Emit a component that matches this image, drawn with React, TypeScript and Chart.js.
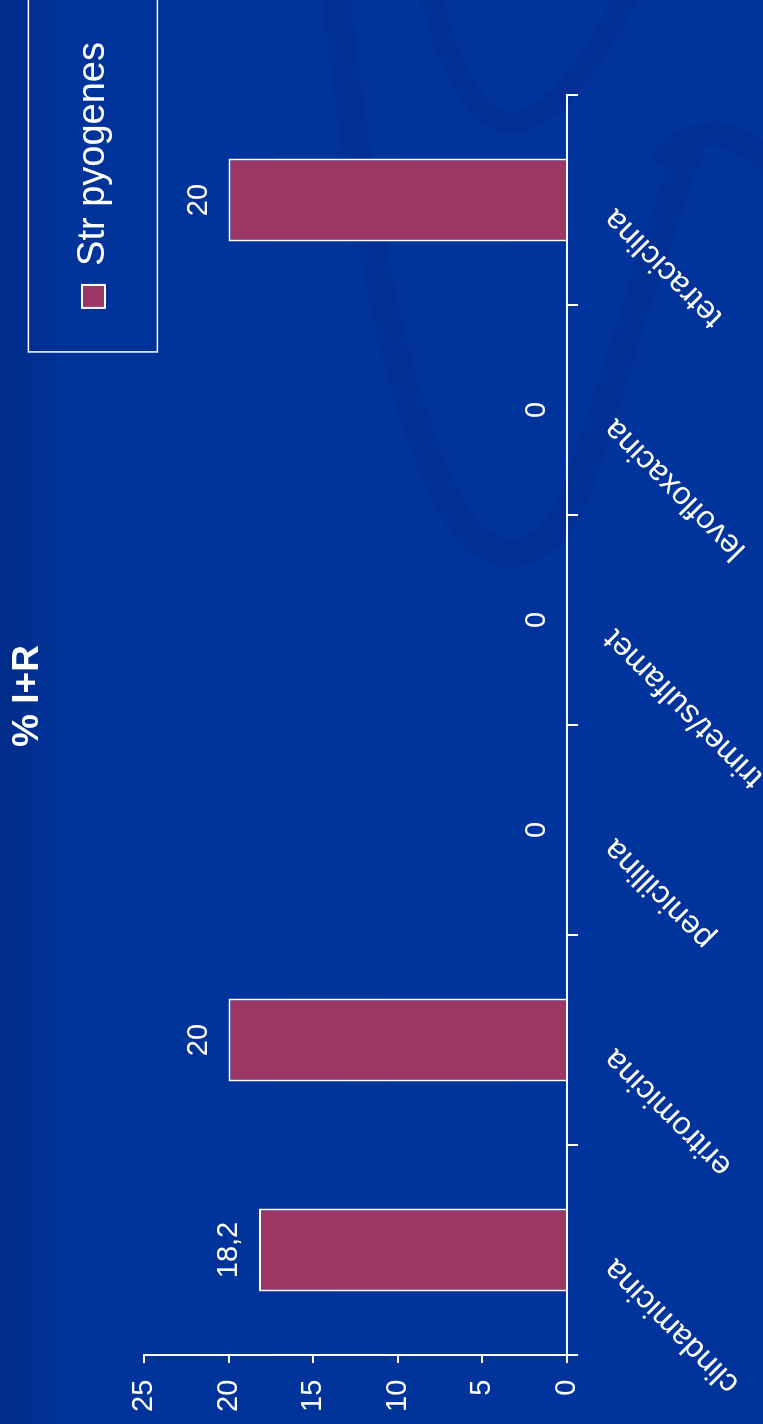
import { useEffect, useRef } from 'react';
import { Chart, registerables } from 'chart.js';

Chart.register(...registerables);

const categories = ['clindamicina', 'eritromicina', 'penicillina', 'trimet/sulfamet', 'levofloxacina', 'tetraciclina'];
const seriesName = 'Str pyogenes';
const seriesValues = [18.2, 20, 0, 0, 0, 20];
const valueTicks = [0, 5, 10, 15, 20, 25];
const chartTitle = '% I+R';

const W = 1424;
const H = 763;
const FONT = "'Liberation Sans', Arial, sans-serif";
const BAR = '#9b3665';
const SWIRL = '#003094';

const fmt = (v: number) => String(v).replace('.', ',');

const valueLabels = {
  id: 'valueLabels',
  afterDatasetsDraw(chart: any) {
    const ctx = chart.ctx;
    const meta = chart.getDatasetMeta(0);
    ctx.save();
    ctx.fillStyle = '#ffffff';
    ctx.font = `29px ${FONT}`;
    ctx.textAlign = 'center';
    ctx.textBaseline = 'middle';
    meta.data.forEach((bar: any, i: number) => {
      ctx.fillText(fmt(chart.data.datasets[0].data[i]), bar.x, bar.y - 30);
    });
    ctx.restore();
  },
};

const legendFrame = {
  id: 'legendFrame',
  afterDraw(chart: any) {
    const lg = chart.legend;
    if (!lg || !lg.legendHitBoxes || !lg.legendHitBoxes.length) return;
    const hb = lg.legendHitBoxes[0];
    const ctx = chart.ctx;
    ctx.save();
    ctx.strokeStyle = '#ffffff';
    ctx.lineWidth = 1.5;
    ctx.strokeRect(hb.left - 44, hb.top - 46, chart.width, 129);
    ctx.restore();
  },
};

export default function App() {
  const ref = useRef<HTMLCanvasElement>(null);

  useEffect(() => {
    document.body.style.margin = '0';
    Chart.defaults.font.family = FONT;
    Chart.defaults.color = '#ffffff';
    const chart = new Chart(ref.current as HTMLCanvasElement, {
      type: 'bar',
      data: {
        labels: categories,
        datasets: [
          {
            label: seriesName,
            data: seriesValues,
            backgroundColor: BAR,
            borderColor: '#ffffff',
            borderWidth: 2,
            categoryPercentage: 1,
            barPercentage: 0.395,
          },
        ],
      },
      options: {
        responsive: false,
        animation: false,
        layout: { padding: { left: 50, right: 18, top: 0, bottom: 0 } },
        plugins: {
          title: {
            display: true,
            text: chartTitle,
            color: '#ffffff',
            font: { size: 37, weight: 'bold' },
            padding: { top: 6, bottom: 0 },
          },
          subtitle: {
            display: true,
            text: '',
            weight: 500,
            font: { size: 10, lineHeight: 1 },
            padding: { top: 0, bottom: 11.6 },
          } as any,
          legend: {
            display: true,
            position: 'top',
            align: 'end',
            labels: {
              color: '#ffffff',
              font: { size: 38 },
              boxWidth: 23,
              boxHeight: 23,
              padding: 24,
            },
          },
          tooltip: { enabled: false },
        },
        scales: {
          x: {
            ticks: {
              color: '#ffffff',
              font: { size: 32 },
              minRotation: 45,
              maxRotation: 45,
              autoSkip: false,
              padding: 18,
              labelOffset: -14,
            },
            grid: {
              display: true,
              drawOnChartArea: false,
              drawTicks: true,
              tickLength: 11,
              color: '#ffffff',
              lineWidth: 2,
              offset: true,
            },
            border: { display: true, color: '#ffffff', width: 2 },
            afterFit: (s: any) => {
              s.height = 196;
              s.paddingRight = 95;
            },
          },
          y: {
            min: 0,
            max: 25,
            ticks: {
              color: '#ffffff',
              font: { size: 29 },
              stepSize: 5,
              mirror: true,
              crossAlign: 'far',
              padding: -57,
            },
            afterBuildTicks: (s: any) => {
              s.ticks = valueTicks.map((v) => ({ value: v }));
            },
            grid: {
              display: true,
              drawOnChartArea: false,
              drawTicks: true,
              tickLength: 8,
              color: '#ffffff',
              lineWidth: 2,
            },
            border: { display: true, color: '#ffffff', width: 2 },
            afterFit: (s: any) => {
              s.width = 19;
            },
          },
        },
      },
      plugins: [valueLabels, legendFrame],
    });
    return () => chart.destroy();
  }, []);

  return (
    <div
      style={{
        position: 'fixed',
        left: 0,
        top: 0,
        width: 763,
        height: 1424,
        overflow: 'hidden',
        background: 'linear-gradient(to right, #002c8a 0px, #00339a 70px, #00349c 100%)',
      }}
    >
      <svg width={763} height={1424} style={{ position: 'absolute', left: 0, top: 0 }}>
        <path
          d="M 335 -10 C 360 200, 395 420, 460 520 C 495 570, 545 565, 575 495 C 610 400, 650 250, 690 150"
          fill="none"
          stroke={SWIRL}
          strokeWidth={28}
          strokeLinecap="round"
        />
        <path
          d="M 430 -10 C 450 80, 485 130, 520 122 C 560 112, 600 50, 630 -10"
          fill="none"
          stroke={SWIRL}
          strokeWidth={22}
        />
        <path
          d="M 660 165 C 690 125, 730 120, 775 170"
          fill="none"
          stroke={SWIRL}
          strokeWidth={24}
        />
      </svg>
      <div
        style={{
          position: 'absolute',
          left: 0,
          top: 0,
          width: W,
          height: H,
          transformOrigin: '0 0',
          transform: `translateY(${W}px) rotate(-90deg)`,
        }}
      >
        <canvas ref={ref} width={W} height={H} style={{ display: 'block', width: W, height: H }} />
      </div>
    </div>
  );
}
